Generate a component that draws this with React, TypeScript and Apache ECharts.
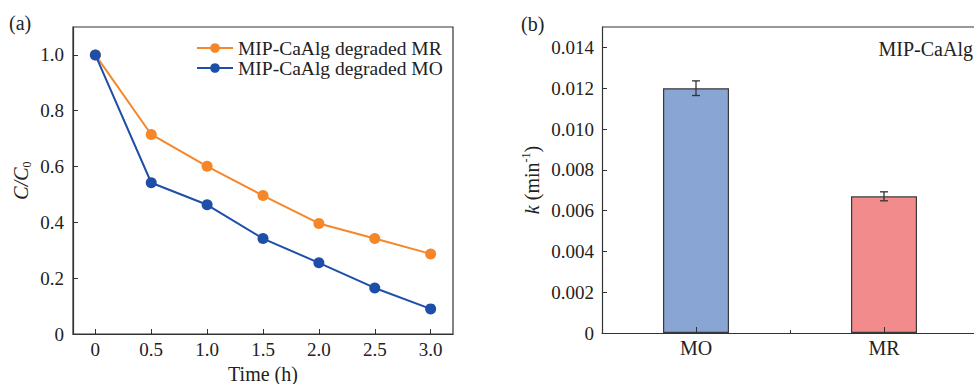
import React, { useEffect, useRef } from "react";
import * as echarts from "echarts";

const times = [0, 0.5, 1.0, 1.5, 2.0, 2.5, 3.0];
const mrValues = [1.0, 0.715, 0.601, 0.496, 0.396, 0.342, 0.287];
const moValues = [1.0, 0.542, 0.463, 0.342, 0.255, 0.165, 0.09];
const xTicksA = [0, 0.5, 1.0, 1.5, 2.0, 2.5, 3.0];
const yTicksA = [0, 0.2, 0.4, 0.6, 0.8, 1.0];
const seriesNames = ["MIP-CaAlg degraded MR", "MIP-CaAlg degraded MO"];

const dyes = ["MO", "MR"];
const kValues = [0.012, 0.0067];
const kErrors = [0.00036, 0.00022];
const yTicksB = [0, 0.002, 0.004, 0.006, 0.008, 0.01, 0.012, 0.014];

const FONT = "'Liberation Serif', 'Times New Roman', serif";
const TXT = "#222";
const AX = "#333";

export default function App() {
  const ref = useRef<HTMLDivElement>(null);
  useEffect(() => {
    if (!ref.current) return;
    const chart = echarts.init(ref.current, undefined, { renderer: "svg" });
    const axisLine = { show: true, onZero: false, lineStyle: { color: AX, width: 1.2 } };
    const labelStyle = { color: TXT, fontFamily: FONT, fontSize: 19 };
    const legendBase = {
      orient: "vertical",
      left: 191,
      itemWidth: 36,
      itemHeight: 12,
      padding: [0, 5, 0, 5],
      textStyle: { ...labelStyle, fontSize: 19.5, lineHeight: 19 },
    };
    const option: any = {
      animation: false,
      backgroundColor: "#fff",
      textStyle: { fontFamily: FONT },
      grid: [
        {
          left: 73, top: 27, width: 380, height: 307, show: true, borderColor: AX, borderWidth: 1.2,
          backgroundColor: "transparent", containLabel: false, outerBoundsMode: "none",
        },
        { left: 602, top: 27, width: 376, height: 306, show: false, containLabel: false, outerBoundsMode: "none" },
      ],
      legend: [
        { ...legendBase, top: 38, data: [seriesNames[0]] },
        { ...legendBase, top: 58, data: [seriesNames[1]] },
      ],
      xAxis: [
        {
          type: "value",
          gridIndex: 0,
          min: -0.2,
          max: 3.2,
          axisLine,
          splitLine: { show: false },
          axisTick: { show: true, inside: true, length: 5, lineStyle: { color: AX }, customValues: xTicksA },
          axisLabel: {
            ...labelStyle,
            margin: 6,
            customValues: xTicksA,
            formatter: (v: number) => (v === 0 ? "0" : v.toFixed(1)),
          },
          name: "Time (h)",
          nameLocation: "middle",
          nameGap: 26,
          nameTextStyle: { ...labelStyle, fontSize: 20 },
        },
        {
          type: "category",
          gridIndex: 1,
          data: dyes,
          z: 5,
          axisLine,
          axisTick: { show: true, inside: true, alignWithLabel: true, length: 6, lineStyle: { color: AX } },
          axisLabel: { ...labelStyle, fontSize: 20, margin: 5 },
        },
        {
          type: "category",
          gridIndex: 1,
          position: "bottom",
          data: dyes,
          z: 5,
          axisLine: { show: false },
          axisTick: { show: true, inside: true, alignWithLabel: false, length: 3, lineStyle: { color: AX } },
          axisLabel: { show: false },
        },
      ],
      yAxis: [
        {
          type: "value",
          gridIndex: 0,
          min: 0,
          max: 1.1,
          axisLine,
          splitLine: { show: false },
          axisTick: { show: true, inside: true, length: 5, lineStyle: { color: AX }, customValues: yTicksA },
          axisLabel: {
            ...labelStyle,
            margin: 9,
            customValues: yTicksA,
            formatter: (v: number) => (v === 0 ? "0" : v.toFixed(1)),
          },
          name: "{i|C/C}{sub|0}",
          nameLocation: "middle",
          nameRotate: 90,
          nameGap: 40,
          nameTextStyle: {
            rich: {
              i: { fontFamily: FONT, fontSize: 20, fontStyle: "italic", color: TXT, lineHeight: 24 },
              sub: { fontFamily: FONT, fontSize: 12, color: TXT, lineHeight: 12, verticalAlign: "bottom" },
            },
          },
        },
        {
          type: "value",
          gridIndex: 1,
          min: 0,
          max: 0.015,
          axisLine,
          splitLine: { show: false },
          axisTick: { show: true, inside: true, length: 5, lineStyle: { color: AX }, customValues: yTicksB },
          axisLabel: {
            ...labelStyle,
            margin: 8,
            customValues: yTicksB,
            formatter: (v: number) => (v === 0 ? "0" : v.toFixed(3)),
          },
          name: "{i|k}{n| (min}{sup|-1}{n|)}",
          nameLocation: "middle",
          nameRotate: 90,
          nameGap: 58,
          nameTextStyle: {
            rich: {
              i: { fontFamily: FONT, fontSize: 20, fontStyle: "italic", color: TXT, lineHeight: 24 },
              n: { fontFamily: FONT, fontSize: 20, color: TXT, lineHeight: 24 },
              sup: { fontFamily: FONT, fontSize: 12, color: TXT, lineHeight: 12, verticalAlign: "top" },
            },
          },
        },
      ],
      series: [
        {
          name: seriesNames[0],
          type: "line",
          xAxisIndex: 0,
          yAxisIndex: 0,
          data: times.map((t, i) => [t, mrValues[i]]),
          symbol: "circle",
          symbolSize: 11,
          lineStyle: { color: "#F5872A", width: 2 },
          itemStyle: { color: "#F5872A" },
          z: 2,
        },
        {
          name: seriesNames[1],
          type: "line",
          xAxisIndex: 0,
          yAxisIndex: 0,
          data: times.map((t, i) => [t, moValues[i]]),
          symbol: "circle",
          symbolSize: 11,
          lineStyle: { color: "#1E4FA8", width: 2 },
          itemStyle: { color: "#1E4FA8" },
          z: 3,
        },
        {
          type: "bar",
          xAxisIndex: 1,
          yAxisIndex: 1,
          barWidth: 66,
          data: kValues.map((v, i) => ({
            value: v,
            itemStyle: {
              color: i === 0 ? "#88A5D3" : "#F28C8C",
              borderColor: "#3a3a3a",
              borderWidth: 1.2,
            },
          })),
          z: 2,
        },
        {
          type: "custom",
          xAxisIndex: 1,
          yAxisIndex: 1,
          data: kValues.map((v, i) => [i, v - kErrors[i], v + kErrors[i]]),
          renderItem: (params: any, api: any) => {
            const x = api.value(0);
            const lo = api.coord([x, api.value(1)]);
            const hi = api.coord([x, api.value(2)]);
            const w = 4;
            const st = { stroke: "#333", lineWidth: 1.3 };
            return {
              type: "group",
              children: [
                { type: "line", shape: { x1: lo[0], y1: lo[1], x2: hi[0], y2: hi[1] }, style: st },
                { type: "line", shape: { x1: lo[0] - w, y1: lo[1], x2: lo[0] + w, y2: lo[1] }, style: st },
                { type: "line", shape: { x1: hi[0] - w, y1: hi[1], x2: hi[0] + w, y2: hi[1] }, style: st },
              ],
            };
          },
          z: 4,
        },
      ],
      graphic: [
        { type: "text", left: 9, top: 13, style: { text: "(a)", fontFamily: FONT, fontSize: 20, fill: TXT } },
        { type: "text", left: 521, top: 14, style: { text: "(b)", fontFamily: FONT, fontSize: 20, fill: TXT } },
        {
          type: "line",
          shape: { x1: 602, y1: 27, x2: 974, y2: 27 },
          style: { stroke: AX, lineWidth: 1.2 },
        },
        {
          type: "text",
          x: 973,
          y: 49,
          style: { text: "MIP-CaAlg", fontFamily: FONT, fontSize: 20, fill: TXT, align: "right", verticalAlign: "middle" },
        },
      ],
    };
    chart.setOption(option);
    return () => chart.dispose();
  }, []);
  return (
    <div
      ref={ref}
      style={{ position: "fixed", left: 0, top: 0, width: 974, height: 384, background: "#fff" }}
    />
  );
}
